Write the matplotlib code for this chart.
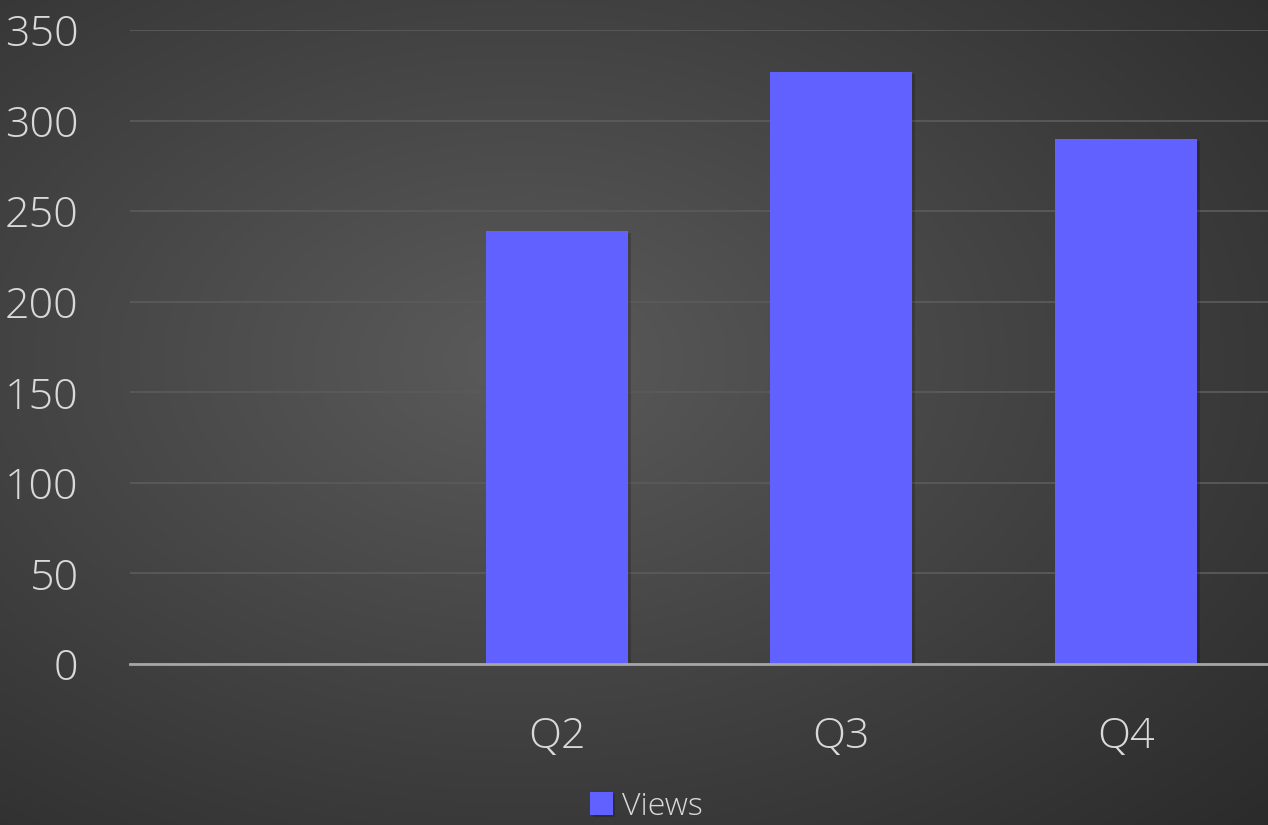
import numpy as np
import matplotlib.pyplot as plt
import matplotlib.patheffects as pe

categories = ["", "Q2", "Q3", "Q4"]
views = [0, 239, 327, 290]
yticks = [0, 50, 100, 150, 200, 250, 300, 350]

plt.rcParams['font.family'] = ['Open Sans', 'DejaVu Sans']

fig = plt.figure(figsize=(12.68, 8.25), dpi=100)

# radial gradient background
bg = fig.add_axes([0, 0, 1, 1], zorder=-10)
yy, xx = np.mgrid[0:825, 0:1268]
dist = np.sqrt(((xx - 520) / 1268.0) ** 2 + ((yy - 360) / 825.0) ** 2)
shade = np.clip(0.355 - 0.23 * dist, 0.16, 0.36)
bg.imshow(np.dstack([shade, shade, shade]), aspect='auto', extent=[0, 1, 0, 1])
bg.axis('off')

ax = fig.add_axes([130 / 1268, (825 - 664) / 825, 1 - 130 / 1268, (664 - 30) / 825])
ax.patch.set_alpha(0)

x = np.arange(len(categories))
bars = ax.bar(x, views, width=0.5, color='#6161ff', zorder=3)
for b in bars:
    b.set_path_effects([pe.SimplePatchShadow(offset=(2, -1.5), shadow_rgbFace='black', alpha=0.18), pe.Normal()])

ax.set_xlim(-0.5, 3.5)
ax.set_ylim(0, 350)
ax.set_yticks(yticks)
ax.set_xticks(x)
ax.set_xticklabels(categories)
ax.yaxis.grid(True, color='#5a5a5a', linewidth=1.3, zorder=0)
ax.set_axisbelow(True)
for s in ['top', 'right', 'left']:
    ax.spines[s].set_visible(False)
ax.spines['bottom'].set_color('#a6a6a6')
ax.spines['bottom'].set_linewidth(2)
ax.spines['bottom'].set_zorder(4)
ax.tick_params(axis='both', length=0, colors='#d9d9d9', labelsize=31)
ax.tick_params(axis='y', pad=37)
ax.tick_params(axis='x', pad=37)
for lbl in ax.get_xticklabels() + ax.get_yticklabels():
    lbl.set_fontweight('light')

leg = fig.legend([bars[1]], ["Views"], loc='lower center', bbox_to_anchor=(0.51, -0.032),
                 frameon=False, fontsize=23, handlelength=0.7, handleheight=0.7,
                 handletextpad=0.3, labelcolor='#d9d9d9')
for t in leg.get_texts():
    t.set_fontweight('light')

fig.savefig("out.png", dpi=100)
